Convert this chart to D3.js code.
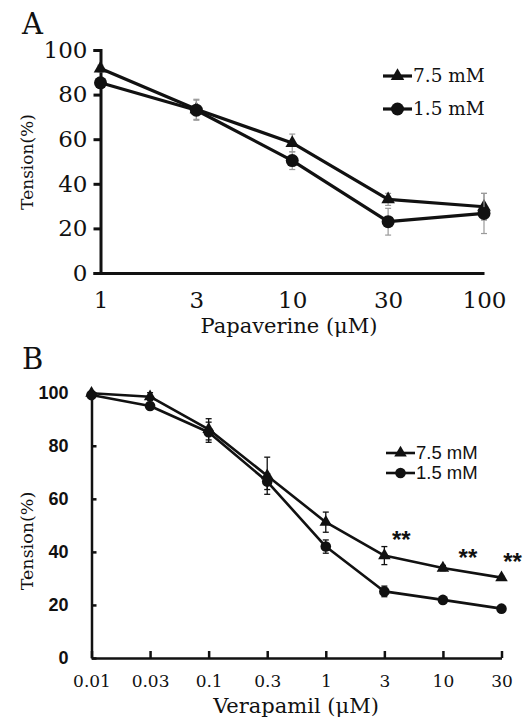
<!DOCTYPE html>
<html>
<head>
<meta charset="utf-8">
<script src="https://d3js.org/d3.v7.min.js"></script>
<style>
body { margin: 0; background: #fff; }
svg text { fill: #111; }
.serif { font-family: "DejaVu Serif", serif; }
.sans { font-family: "Liberation Sans", Arial, sans-serif; }
</style>
</head>
<body>
<script>
// panel A: papaverine
var papCats = ['1', '3', '10', '30', '100'];
var papHigh = [91.7, 73.4, 58.3, 33.0, 29.7];   // 7.5 mM
var papHighErr = [1.5, 4.5, 4.0, 2.7, 6.0];
var papLow = [85.3, 73.0, 50.4, 23.0, 26.7];    // 1.5 mM
var papLowErr = [1.5, 4.5, 4.0, 6.0, 9.0];

// panel B: verapamil
var verCats = ['0.01', '0.03', '0.1', '0.3', '1', '3', '10', '30'];
var verHigh = [99.8, 98.5, 86.2, 68.7, 51.2, 38.6, 33.9, 30.3];
var verHighErr = [0.5, 1.5, 4.0, 7.0, 3.8, 3.4, 1.0, 0.5];
var verLow = [99.1, 95.0, 85.1, 66.5, 42.0, 25.1, 21.9, 18.6];
var verLowErr = [0.5, 1.0, 3.8, 3.0, 2.5, 2.0, 0.8, 0.5];

var yTicks = [0, 20, 40, 60, 80, 100];
var seriesNames = ['7.5 mM', '1.5 mM'];
// significance marks: category, y value, pixel shift
var stars = [{cat: '3', v: 46.4, dx: 17}, {cat: '10', v: 39.6, dx: 25}, {cat: '30', v: 38.1, dx: 11}];

var width = 532, height = 719;
var svg = d3.select('body').append('svg').attr('width', width).attr('height', height);

var triangle = d3.symbol().type(d3.symbolTriangle);

function drawSeries(g, x, y, cats, vals, errs, marker, o) {
  var pts = cats.map((c, i) => ({c: c, v: vals[i], e: errs[i]}));
  // error bars
  var eb = g.append('g').attr('stroke', o.errColor).attr('stroke-width', o.errWidth).attr('fill', 'none');
  pts.forEach(p => {
    var cx = x(p.c);
    eb.append('line').attr('x1', cx).attr('x2', cx).attr('y1', y(p.v + p.e)).attr('y2', y(p.v - p.e));
    eb.append('line').attr('x1', cx - o.cap).attr('x2', cx + o.cap).attr('y1', y(p.v + p.e)).attr('y2', y(p.v + p.e));
    eb.append('line').attr('x1', cx - o.cap).attr('x2', cx + o.cap).attr('y1', y(p.v - p.e)).attr('y2', y(p.v - p.e));
  });
  g.append('path').datum(pts)
    .attr('fill', 'none').attr('stroke', '#111').attr('stroke-width', o.lw)
    .attr('stroke-linejoin', 'round')
    .attr('d', d3.line().x(d => x(d.c)).y(d => y(d.v)));
  pts.forEach(p => {
    if (marker == 'tri') {
      g.append('path').attr('d', triangle.size(o.triSize)())
        .attr('transform', 'translate(' + x(p.c) + ',' + y(p.v) + ')').attr('fill', '#111');
    } else {
      g.append('circle').attr('cx', x(p.c)).attr('cy', y(p.v)).attr('r', o.r).attr('fill', '#111');
    }
  });
}

function legend(g, lx, ly, gap, o, cls, fs) {
  seriesNames.forEach((name, i) => {
    var yy = ly + i * gap;
    g.append('line').attr('x1', lx).attr('x2', lx + 29).attr('y1', yy).attr('y2', yy)
      .attr('stroke', '#111').attr('stroke-width', o.lw);
    if (i == 0) {
      g.append('path').attr('d', triangle.size(o.triSize)())
        .attr('transform', 'translate(' + (lx + 14.5) + ',' + yy + ')').attr('fill', '#111');
    } else {
      g.append('circle').attr('cx', lx + 14.5).attr('cy', yy).attr('r', o.r).attr('fill', '#111');
    }
    g.append('text').attr('class', cls).attr('x', lx + 30).attr('y', yy).attr('dy', '0.35em')
      .style('font-size', fs + 'px').text(name);
  });
}

// ---------- panel A ----------
var xA = d3.scalePoint().domain(papCats).range([100.5, 484]);
var yA = d3.scaleLinear().domain([0, 100]).range([273, 50]);
var gA = svg.append('g');

var yAxisA = d3.axisLeft(yA).tickValues(yTicks).tickSize(7).tickSizeOuter(7).tickPadding(6);
gA.append('g').attr('transform', 'translate(' + xA.range()[0] + ',0)').call(yAxisA)
  .call(g => g.selectAll('path,line').attr('stroke', '#111').attr('stroke-width', 3))
  .call(g => g.selectAll('text').attr('class', 'serif').style('font-size', '23px').attr('fill', '#111'));
var xAxisA = d3.axisBottom(xA).tickSize(0).tickPadding(19);
gA.append('g').attr('transform', 'translate(0,' + yA(0) + ')').call(xAxisA)
  .call(g => g.selectAll('path').attr('stroke', '#111').attr('stroke-width', 3))
  .call(g => g.selectAll('text').attr('class', 'serif').style('font-size', '23px').attr('fill', '#111'));

var optA = {lw: 3.2, r: 6.5, triSize: 80, errColor: '#9a9a9a', errWidth: 1.2, cap: 3};
drawSeries(gA, xA, yA, papCats, papHigh, papHighErr, 'tri', optA);
drawSeries(gA, xA, yA, papCats, papLow, papLowErr, 'circ', optA);
legend(gA, 383, 76, 33, optA, 'serif', 18.5);

gA.append('text').attr('class', 'serif').attr('x', 22).attr('y', 34).style('font-size', '29px').text('A');
gA.append('text').attr('class', 'serif').attr('transform', 'translate(33,162) rotate(-90)')
  .attr('text-anchor', 'middle').style('font-size', '17px').text('Tension(%)');
gA.append('text').attr('class', 'serif').attr('x', 289).attr('y', 333)
  .attr('text-anchor', 'middle').style('font-size', '21px').text('Papaverine (μM)');

// ---------- panel B ----------
var xB = d3.scalePoint().domain(verCats).range([91.5, 501.5]);
var yB = d3.scaleLinear().domain([0, 100]).range([658, 392.7]);
var gB = svg.append('g');

var yAxisB = d3.axisLeft(yB).tickValues(yTicks).tickSizeInner(-5).tickSizeOuter(0).tickPadding(23);
gB.append('g').attr('transform', 'translate(' + xB.range()[0] + ',0)').call(yAxisB)
  .call(g => g.selectAll('path,line').attr('stroke', '#111').attr('stroke-width', 2.5))
  .call(g => g.selectAll('text').attr('class', 'sans').style('font-size', '18px')
    .style('font-weight', 'bold').attr('fill', '#111'));
var xAxisB = d3.axisBottom(xB).tickSizeInner(-7).tickSizeOuter(0).tickPadding(17);
gB.append('g').attr('transform', 'translate(0,' + yB(0) + ')').call(xAxisB)
  .call(g => g.selectAll('path,line').attr('stroke', '#111').attr('stroke-width', 2.5))
  .call(g => g.selectAll('text').attr('class', 'serif').style('font-size', '17px').attr('fill', '#111'));

var optB = {lw: 2.6, r: 5.3, triSize: 68, errColor: '#111', errWidth: 1.3, cap: 3};
drawSeries(gB, xB, yB, verCats, verHigh, verHighErr, 'tri', optB);
drawSeries(gB, xB, yB, verCats, verLow, verLowErr, 'circ', optB);
legend(gB, 386, 453, 20, optB, 'sans', 18.5);

gB.selectAll('.star').data(stars).enter().append('text')
  .attr('class', 'sans').attr('text-anchor', 'middle')
  .attr('x', d => xB(d.cat) + d.dx).attr('y', d => yB(d.v) + 13)
  .style('font-size', '24px').style('font-weight', 'bold').text('**');

gB.append('text').attr('class', 'serif').attr('x', 22).attr('y', 369).style('font-size', '29px').text('B');
gB.append('text').attr('class', 'serif').attr('transform', 'translate(33,541) rotate(-90)')
  .attr('text-anchor', 'middle').style('font-size', '17.5px').text('Tension(%)');
gB.append('text').attr('class', 'serif').attr('x', 296).attr('y', 713)
  .attr('text-anchor', 'middle').style('font-size', '21px').text('Verapamil (μM)');
</script>
</body>
</html>
